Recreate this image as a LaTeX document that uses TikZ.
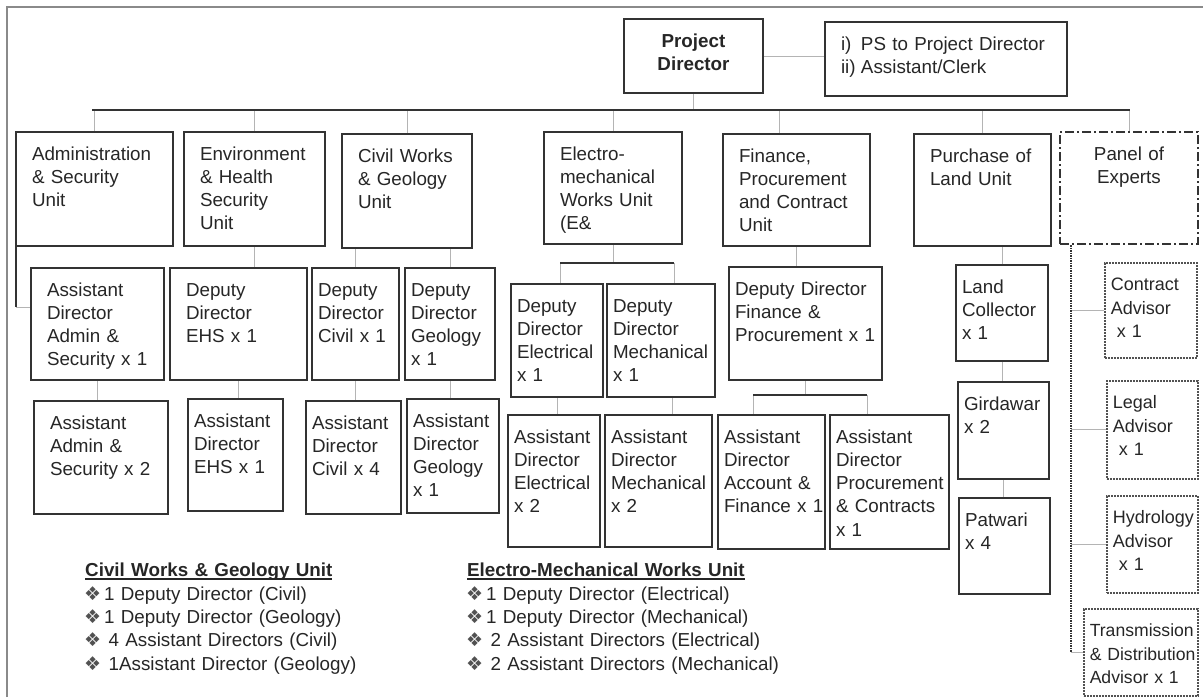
\documentclass[tikz,border=0pt]{standalone}
\usepackage{fontspec}
\setmainfont{Liberation Sans}
\newfontfamily\symbolfont{DejaVu Sans}
\usepackage{xcolor}
\usetikzlibrary{calc}
\definecolor{inkgray}{HTML}{262626}
\definecolor{boxgray}{HTML}{333333}
\definecolor{wiregray}{HTML}{B4B4B4}
\definecolor{rimgray}{HTML}{8A8A8A}
\hyphenpenalty=10000
\exhyphenpenalty=10000
\newcommand{\diamondbullet}{\makebox[15pt][c]{\color{inkgray!80}\symbolfont\fontsize{19}{19}\selectfont ❖}}
\newcommand{\keyhead}[1]{\setbox0\hbox{\bfseries #1}\rlap{\rule[-3.2pt]{\wd0}{1.8pt}}\box0}
\tikzset{
	chart/.style={draw=boxgray,line width=2pt,anchor=north west,align=left,text=inkgray,inner ysep=8pt,text height=20pt,font=\fontsize{18.8}{23.3}\selectfont},%
	unit/.style={chart,inner xsep=16pt},%
	post/.style={chart,inner xsep=6pt},%
	advisor/.style={post,draw=boxgray!85,densely dotted,line width=1.5pt,font=\fontsize{18}{23.3}\selectfont},%
	experts/.style={chart,inner xsep=6pt,align=center,dash pattern=on 9pt off 3pt on 2pt off 3pt},%
	bus/.style={draw=boxgray,line width=2.5pt},%
	link/.style={draw=wiregray,line width=1pt},%
	trunk/.style={draw=boxgray,line width=2.5pt,dash pattern=on 1.5pt off 1pt},%
	outerframe/.style={draw=rimgray,line width=2pt},%
	legend/.style={anchor=north west,align=left,text=inkgray,inner sep=0pt,text width=330pt,font=\fontsize{18.8}{23.3}\selectfont},%
	dims/.style 2 args={text width=#1pt,text depth=#2pt},%
}

\begin{document}
\begin{tikzpicture}[x=1pt,y=-1pt]
	\useasboundingbox (0,0) rectangle (1203,697);
	\draw[outerframe] (7,697) -- (7,7) -- (1203,7);
	% Director {{{
	\node[chart,inner xsep=6pt,align=center,dims={127}{38},font=\fontsize{18.8}{23.3}\selectfont\bfseries] (pd) at (623,18) {Project\\Director};
	\node[unit,dims={210}{38}] (ps) at (824,21) {\makebox[20pt][l]{i)}PS to Project Director\\\makebox[20pt][l]{ii)}Assistant/Clerk};
	% }}}
	% Units {{{
	\node[unit,dims={125}{78}] (adminunit) at (15,131) {Administration\\\& Security\\Unit};
	\node[unit,dims={109}{78}] (ehsunit) at (183,131) {Environment\\\& Health\\Security\\Unit};
	\node[unit,dims={98}{78}] (civilunit) at (341,133) {Civil~Works\\\& Geology\\Unit};
	\node[unit,dims={106}{76}] (emunit) at (543,131) {Electro-\\mechanical\\Works~Unit\\(E\&};
	\node[unit,dims={115}{76}] (finunit) at (722,133) {Finance,\\Procurement\\and~Contract\\Unit};
	\node[unit,dims={105}{76}] (landunit) at (913,133) {Purchase~of\\Land Unit};
	\node[experts,dims={126}{76}] (panel) at (1059,131) {Panel of\\Experts};
	% }}}
	% Admin, EHS, civil {{{
	\node[unit,dims={101}{76}] (adadmin) at (30,267) {Assistant\\Director\\Admin \&\\Security~x~1};
	\node[unit,dims={102}{77}] (asstadmin) at (33,400) {Assistant\\Admin \&\\Security~x~2};
	\node[unit,dims={105}{76}] (ddehs) at (169,267) {Deputy\\Director\\EHS~x~1};
	\node[post,dims={83}{76}] (adehs) at (187,398) {Assistant\\Director\\EHS~x~1};
	\node[post,dims={75}{76}] (ddcivil) at (311,267) {Deputy\\Director\\Civil~x~1};
	\node[post,dims={83}{77}] (adcivil) at (305,400) {Assistant\\Director\\Civil~x~4};
	\node[post,dims={78}{76}] (ddgeo) at (404,267) {Deputy\\Director\\Geology\\x~1};
	\node[post,dims={80}{78}] (adgeo) at (406,398) {Assistant\\Director\\Geology\\x~1};
	% }}}
	% Electro-mechanical, finance {{{
	\node[post,dims={80}{77}] (ddelec) at (510,283) {Deputy\\Director\\Electrical\\x~1};
	\node[post,dims={96}{77}] (ddmech) at (606,283) {Deputy\\Director\\Mechanical\\x~1};
	\node[post,dims={80}{96}] (adelec) at (507,414) {Assistant\\Director\\Electrical\\x~2};
	\node[post,dims={95}{96}] (admech) at (604,414) {Assistant\\Director\\Mechanical\\x~2};
	\node[post,dims={141}{77}] (ddfin) at (728,266) {Deputy~Director\\Finance \&\\Procurement~x~1};
	\node[post,dims={95}{98}] (adacc) at (717,414) {Assistant\\Director\\Account \&\\Finance~x~1};
	\node[post,dims={107}{98}] (adproc) at (829,414) {Assistant\\Director\\Procurement\\\&~Contracts\\x~1};
	% }}}
	% Land {{{
	\node[post,dims={80}{60}] (collector) at (955,264) {Land\\Collector\\x~1};
	\node[post,dims={79}{61}] (girdawar) at (957,381) {Girdawar\\x~2};
	\node[post,dims={79}{60}] (patwari) at (958,497) {Patwari\\x~4};
	% }}}
	% Advisors {{{
	\node[advisor,dims={80}{59}] (contract) at (1104,262) {Contract\\Advisor\\~x~1};
	\node[advisor,dims={79}{62}] (legal) at (1106,380) {Legal\\Advisor\\~x~1};
	\node[advisor,dims={79}{61}] (hydro) at (1106,495) {Hydrology\\Advisor\\~x~1};
	\node[advisor,dims={102}{51},font=\fontsize{17.6}{23.3}\selectfont] (td) at (1083,608) {Transmission\\\&~Distribution\\Advisor~x~1};
	% }}}
	% Connectors {{{
	\coordinate (busl) at (92,110);
	\coordinate (busr) at (1130,110);
	\draw[link] (pd.east) -- (pd.east -| ps.west);
	\draw[link] (pd.south) -- (pd.south |- busl);
	\foreach \u in {adminunit,ehsunit,civilunit,emunit,landunit,panel}
		\draw[link] (\u.north) -- (\u.north |- busl);
	\draw[link] ([xshift=-17pt]finunit.north) -- ([xshift=-17pt]finunit.north |- busl);
	\draw[bus] (busl) -- (busr);
	\coordinate (adminbend) at (16,307);
	\draw[bus,line width=2pt] ([xshift=1pt]adminunit.south west) -- (adminbend);
	\draw[link] (adminbend) -- (adminbend -| adadmin.west);
	\draw[link] (adadmin.south) -- (adadmin.south |- asstadmin.north);
	\draw[link] (ehsunit.south) -- (ehsunit.south |- ddehs.north);
	\draw[link] (ddehs.south) -- (ddehs.south |- adehs.north);
	\draw[link] (ddcivil.north) -- (ddcivil.north |- civilunit.south);
	\draw[link] (ddgeo.north) -- (ddgeo.north |- civilunit.south);
	\draw[link] (ddcivil.south) -- (ddcivil.south |- adcivil.north);
	\draw[link] (ddgeo.south) -- (ddgeo.south |- adgeo.north);
	\coordinate (embusl) at (560,263);
	\coordinate (embusr) at (674,263);
	\draw[link] (emunit.south) -- (emunit.south |- embusl);
	\draw[link] (embusl) -- (embusl |- ddelec.north);
	\draw[link] (embusr) -- (embusr |- ddmech.north);
	\draw[bus] (embusl) -- (embusr);
	\draw[link] (ddelec.south) -- (ddelec.south |- adelec.north);
	\draw[link] ([xshift=11pt]ddmech.south) -- ([xshift=11pt]ddmech.south |- admech.north);
	\coordinate (finbusl) at (753,395);
	\coordinate (finbusr) at (867,395);
	\draw[link] (finunit.south) -- (finunit.south |- ddfin.north);
	\draw[link] (ddfin.south) -- (ddfin.south |- finbusl);
	\draw[link] (finbusl) -- (finbusl |- adacc.north);
	\draw[link] (finbusr) -- (finbusr |- adproc.north);
	\draw[bus] (finbusl) -- (finbusr);
	\draw[link] (collector.north) -- (collector.north |- landunit.south);
	\draw[link] (collector.south) -- (collector.south |- girdawar.north);
	\draw[link] (girdawar.south) -- (girdawar.south |- patwari.north);
	\coordinate (trunktop) at ([xshift=12pt]panel.south west);
	\coordinate (trunkend) at (trunktop |- td.west);
	\foreach \a in {contract,legal,hydro,td}
		\draw[link] (\a.west -| trunktop) -- (\a.west);
	\draw[trunk] (trunktop) -- (trunkend);
	% }}}
	% Legends {{{
	\node[legend] (civilkey) at (85,563) {\keyhead{Civil Works \& Geology Unit}\\
		\diamondbullet\hspace{4pt}1 Deputy Director (Civil)\\
		\diamondbullet\hspace{4pt}1 Deputy Director (Geology)\\
		\diamondbullet\hspace{8.5pt}4 Assistant Directors (Civil)\\
		\diamondbullet\hspace{8.5pt}1Assistant Director (Geology)};
	\node[legend] (emkey) at (467,563) {\keyhead{Electro-Mechanical Works Unit}\\
		\diamondbullet\hspace{4pt}1 Deputy Director (Electrical)\\
		\diamondbullet\hspace{4pt}1 Deputy Director (Mechanical)\\
		\diamondbullet\hspace{8.5pt}2 Assistant Directors (Electrical)\\
		\diamondbullet\hspace{8.5pt}2 Assistant Directors (Mechanical)};
	% }}}
\end{tikzpicture}
\end{document}
